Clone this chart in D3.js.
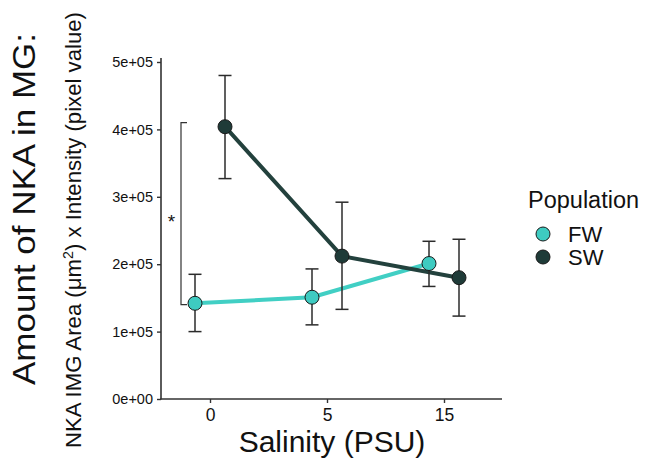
<!DOCTYPE html>
<html>
<head>
<meta charset="utf-8">
<script src="https://cdn.jsdelivr.net/npm/d3@7"></script>
<style>
body { margin: 0; background: #fff; }
text { font-family: "Liberation Sans", Arial, Helvetica, sans-serif; fill: #111; }
</style>
</head>
<body>
<svg id="chart" width="646" height="458"></svg>
<script>
// salinity groups on the x axis
var categories = ["0", "5", "15"];
var populations = ["FW", "SW"];

// mean and error bar ends
var fwMean = [142000, 151000, 201000];
var fwLow  = [100000, 110000, 167000];
var fwHigh = [185000, 193000, 234000];
var swMean = [404000, 212000, 180000];
var swLow  = [327000, 133000, 123000];
var swHigh = [480000, 292000, 237000];

var yTicks = [0, 100000, 200000, 300000, 400000, 500000];
var yTickLabels = ["0e+00", "1e+05", "2e+05", "3e+05", "4e+05", "5e+05"];

// significance bracket (FW vs SW at 0 PSU)
var bracket = [140000, 410000];

var colori = {FW: "#3ecbc1", SW: "#1f3b38"};
var lineColori = {FW: "#41cfc4", SW: "#23413d"};
var dodge = {FW: -15, SW: 15};

var svg = d3.select("#chart");

var x = d3.scalePoint()
	.domain(categories)
	.range([210, 444]);

var y = d3.scaleLinear()
	.domain([0, 500000])
	.range([399, 62]);

var series = [
	{name: "FW", mean: fwMean, low: fwLow, high: fwHigh},
	{name: "SW", mean: swMean, low: swLow, high: swHigh}
];
series.forEach(function(s) {
	s.points = categories.map(function(c, i) {
		return {cat: c, pop: s.name, mean: s.mean[i], low: s.low[i], high: s.high[i]};
	});
});

function px(d) { return x(d.cat) + dodge[d.pop]; }

// axes lines
svg.append("line")
	.attr("x1", 161).attr("x2", 161)
	.attr("y1", 58).attr("y2", 399.5)
	.attr("stroke", "#333").attr("stroke-width", 1.6);
svg.append("line")
	.attr("x1", 160.2).attr("x2", 502)
	.attr("y1", 399).attr("y2", 399)
	.attr("stroke", "#333").attr("stroke-width", 1.6);

var yAxis = svg.append("g")
	.attr("transform", "translate(161,0)")
	.call(d3.axisLeft(y).tickValues(yTicks).tickSize(4).tickPadding(4)
		.tickFormat(function(d, i) { return yTickLabels[i]; }));
yAxis.select(".domain").remove();
yAxis.selectAll("line").attr("stroke", "#333").attr("stroke-width", 1.4);
yAxis.selectAll("text")
	.style("font-size", "14.5px")
	.style("font-family", "Liberation Sans, Arial, sans-serif")
	.attr("fill", "#1e1e1e");

var xAxis = svg.append("g")
	.attr("transform", "translate(0,399)")
	.call(d3.axisBottom(x).tickSize(4).tickPadding(6));
xAxis.select(".domain").remove();
xAxis.selectAll("line").attr("stroke", "#333").attr("stroke-width", 1.4);
xAxis.selectAll("text")
	.style("font-size", "17.5px")
	.style("font-family", "Liberation Sans, Arial, sans-serif")
	.attr("fill", "#1e1e1e");

// lines
var line = d3.line()
	.x(function(d) { return px(d); })
	.y(function(d) { return y(d.mean); });

svg.selectAll("path.serie")
	.data(series)
	.enter()
	.append("path")
	.attr("class", "serie")
	.attr("d", function(d) { return line(d.points); })
	.attr("fill", "none")
	.attr("stroke", function(d) { return lineColori[d.name]; })
	.attr("stroke-width", 4);

// error bars
var allPoints = series[0].points.concat(series[1].points);
var bars = svg.selectAll("g.errbar")
	.data(allPoints)
	.enter()
	.append("g")
	.attr("class", "errbar")
	.attr("stroke", "#2b2b2b")
	.attr("stroke-width", 1.5);
bars.append("line")
	.attr("x1", px).attr("x2", px)
	.attr("y1", function(d) { return y(d.low); })
	.attr("y2", function(d) { return y(d.high); });
bars.append("line")
	.attr("x1", function(d) { return px(d) - 6.5; })
	.attr("x2", function(d) { return px(d) + 6.5; })
	.attr("y1", function(d) { return y(d.low); })
	.attr("y2", function(d) { return y(d.low); });
bars.append("line")
	.attr("x1", function(d) { return px(d) - 6.5; })
	.attr("x2", function(d) { return px(d) + 6.5; })
	.attr("y1", function(d) { return y(d.high); })
	.attr("y2", function(d) { return y(d.high); });

// points
svg.selectAll("circle.punto")
	.data(allPoints)
	.enter()
	.append("circle")
	.attr("class", "punto")
	.attr("cx", px)
	.attr("cy", function(d) { return y(d.mean); })
	.attr("r", 7)
	.attr("fill", function(d) { return colori[d.pop]; })
	.attr("stroke", "#1a1a1a")
	.attr("stroke-width", 1);

// significance bracket
var bx = 181;
svg.append("path")
	.attr("d", "M" + (bx + 6) + "," + y(bracket[1]) + "H" + bx + "V" + y(bracket[0]) + "H" + (bx + 6))
	.attr("fill", "none")
	.attr("stroke", "#333")
	.attr("stroke-width", 1.2);
svg.append("text")
	.attr("x", 171.5)
	.attr("y", y((bracket[0] + bracket[1]) / 2) + 14)
	.attr("text-anchor", "middle")
	.style("font-size", "19px")
	.text("*");

// axis titles
svg.append("text")
	.attr("x", 332)
	.attr("y", 452)
	.attr("text-anchor", "middle")
	.style("font-size", "30px")
	.text("Salinity (PSU)");

svg.append("text")
	.attr("transform", "translate(35,209) rotate(-90)")
	.attr("text-anchor", "middle")
	.attr("textLength", 352)
	.attr("lengthAdjust", "spacingAndGlyphs")
	.style("font-size", "31px")
	.text("Amount of NKA in MG:");

var sub = svg.append("text")
	.attr("transform", "translate(81,230) rotate(-90)")
	.attr("text-anchor", "middle")
	.attr("textLength", 436)
	.attr("lengthAdjust", "spacingAndGlyphs")
	.style("font-size", "22px");
sub.append("tspan").text("NKA IMG Area (\u03bcm");
sub.append("tspan").attr("dy", -8).style("font-size", "14px").text("2");
sub.append("tspan").attr("dy", 8).text(") x Intensity (pixel value)");

// legend
var legenda = svg.append("g");
legenda.append("text")
	.attr("x", 528)
	.attr("y", 208)
	.style("font-size", "23.5px")
	.text("Population");

var voci = legenda.selectAll("g.voce")
	.data(populations)
	.enter()
	.append("g")
	.attr("class", "voce")
	.attr("transform", function(d, i) { return "translate(0," + (234 + i * 23) + ")"; });
voci.append("circle")
	.attr("cx", 543)
	.attr("cy", 0)
	.attr("r", 7)
	.attr("fill", function(d) { return colori[d]; })
	.attr("stroke", "#1a1a1a")
	.attr("stroke-width", 1);
voci.append("text")
	.attr("x", 568)
	.attr("y", 8)
	.style("font-size", "22px")
	.text(function(d) { return d; });
</script>
</body>
</html>
